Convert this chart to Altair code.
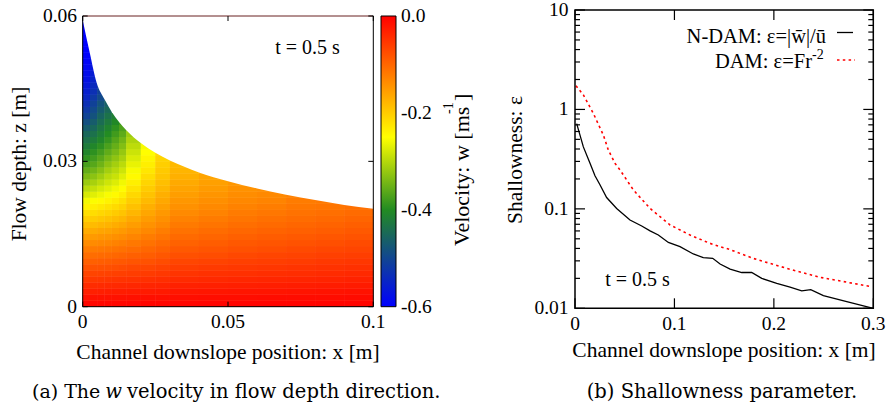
import altair as alt
import pandas as pd

FONT = "Liberation Serif"
CAP_FONT = "DejaVu Serif"

# ---------------- Left panel: w velocity field (readings at cell centres) ----------------
heat_x_edges = [0, 0.0025, 0.005, 0.0075, 0.01, 0.0125, 0.015, 0.02, 0.025, 0.03,
                0.04, 0.05, 0.06, 0.07, 0.08, 0.09, 0.1]
heat_z_edges = [0.0, 0.00125, 0.0025, 0.00375, 0.005, 0.00625, 0.0075, 0.00875, 0.01, 0.01125,
                0.0125, 0.01375, 0.015, 0.01625, 0.0175, 0.01875, 0.02, 0.02125, 0.0225, 0.02375,
                0.025, 0.02625, 0.0275, 0.02875, 0.03, 0.03125, 0.0325, 0.03375, 0.035, 0.03625,
                0.0375, 0.03875, 0.04, 0.04125, 0.0425, 0.04375, 0.045, 0.04625, 0.0475, 0.04875,
                0.05, 0.05125, 0.0525, 0.05375, 0.055, 0.05625, 0.0575, 0.05875, 0.06]
# one list per x column, values from the bed (z=0) upwards, up to the free surface
heat_w_columns = [
    [-0.006, -0.018, -0.031, -0.043, -0.056, -0.068, -0.081, -0.095, -0.108, -0.122, -0.137, -0.153,
     -0.169, -0.185, -0.202, -0.219, -0.238, -0.258, -0.278, -0.298, -0.318, -0.338, -0.356, -0.374,
     -0.391, -0.408, -0.423, -0.437, -0.452, -0.468, -0.486, -0.504, -0.518, -0.532, -0.544, -0.556,
     -0.566, -0.575, -0.582, -0.589, -0.594, -0.597, -0.6, -0.6, -0.6, -0.6, -0.6, -0.6],
    [-0.006, -0.018, -0.031, -0.043, -0.055, -0.067, -0.08, -0.094, -0.107, -0.121, -0.136, -0.151,
     -0.167, -0.183, -0.2, -0.217, -0.234, -0.252, -0.271, -0.29, -0.309, -0.328, -0.346, -0.364,
     -0.378, -0.392, -0.407, -0.423, -0.438, -0.452, -0.467, -0.482, -0.494, -0.506, -0.518, -0.531,
     -0.54, -0.55, -0.56, -0.57, -0.577, -0.583],
    [-0.006, -0.018, -0.03, -0.042, -0.054, -0.066, -0.079, -0.092, -0.105, -0.119, -0.133, -0.147,
     -0.162, -0.178, -0.195, -0.211, -0.228, -0.245, -0.262, -0.279, -0.296, -0.314, -0.331, -0.348,
     -0.362, -0.377, -0.392, -0.407, -0.419, -0.431, -0.444, -0.456, -0.469, -0.481, -0.494, -0.506,
     -0.515, -0.525],
    [-0.006, -0.018, -0.029, -0.041, -0.053, -0.065, -0.078, -0.091, -0.104, -0.117, -0.131, -0.145,
     -0.16, -0.175, -0.19, -0.206, -0.222, -0.238, -0.254, -0.27, -0.283, -0.297, -0.312, -0.327,
     -0.342, -0.357, -0.372, -0.387, -0.399, -0.411, -0.424, -0.436, -0.449, -0.461, -0.47, -0.48],
    [-0.006, -0.017, -0.028, -0.04, -0.051, -0.063, -0.076, -0.088, -0.101, -0.114, -0.127, -0.141,
     -0.155, -0.17, -0.184, -0.199, -0.215, -0.23, -0.245, -0.259, -0.273, -0.287, -0.299, -0.312,
     -0.326, -0.341, -0.354, -0.366, -0.379, -0.391, -0.404, -0.416],
    [-0.006, -0.017, -0.028, -0.039, -0.05, -0.062, -0.074, -0.086, -0.098, -0.111, -0.124, -0.137,
     -0.15, -0.164, -0.178, -0.192, -0.206, -0.22, -0.234, -0.247, -0.259, -0.271, -0.284, -0.296,
     -0.309, -0.321, -0.334, -0.346, -0.359, -0.371, -0.38],
    [-0.005, -0.016, -0.027, -0.038, -0.049, -0.06, -0.071, -0.083, -0.094, -0.106, -0.118, -0.13,
     -0.142, -0.154, -0.166, -0.178, -0.189, -0.201, -0.212, -0.224, -0.235, -0.245, -0.255, -0.265,
     -0.275, -0.285, -0.295, -0.305, -0.316, -0.327],
    [-0.005, -0.015, -0.026, -0.036, -0.047, -0.058, -0.069, -0.08, -0.091, -0.101, -0.112, -0.122,
     -0.133, -0.143, -0.153, -0.163, -0.172, -0.182, -0.191, -0.2, -0.209, -0.217, -0.226, -0.234,
     -0.241, -0.249, -0.255],
    [-0.005, -0.015, -0.025, -0.035, -0.045, -0.055, -0.065, -0.075, -0.085, -0.095, -0.104, -0.114,
     -0.123, -0.133, -0.141, -0.149, -0.157, -0.165, -0.172, -0.18, -0.187, -0.193, -0.198, -0.203,
     -0.208, -0.212],
    [-0.005, -0.014, -0.023, -0.032, -0.042, -0.051, -0.06, -0.069, -0.078, -0.087, -0.096, -0.104,
     -0.112, -0.12, -0.127, -0.135, -0.142, -0.148, -0.155, -0.161, -0.167, -0.173, -0.177, -0.181,
     -0.185],
    [-0.004, -0.013, -0.022, -0.031, -0.04, -0.048, -0.057, -0.066, -0.075, -0.083, -0.091, -0.099,
     -0.106, -0.114, -0.121, -0.128, -0.134, -0.14, -0.146, -0.152, -0.157, -0.161, -0.165],
    [-0.004, -0.013, -0.021, -0.03, -0.038, -0.047, -0.055, -0.063, -0.071, -0.079, -0.086, -0.094,
     -0.101, -0.108, -0.115, -0.121, -0.127, -0.133, -0.138, -0.143, -0.148],
    [-0.004, -0.012, -0.021, -0.029, -0.037, -0.045, -0.053, -0.061, -0.068, -0.076, -0.083, -0.09,
     -0.097, -0.104, -0.11, -0.117, -0.123, -0.129, -0.134, -0.139],
    [-0.004, -0.012, -0.02, -0.028, -0.036, -0.044, -0.051, -0.059, -0.066, -0.073, -0.08, -0.087,
     -0.094, -0.1, -0.106, -0.112, -0.117, -0.122, -0.127],
    [-0.004, -0.012, -0.019, -0.027, -0.035, -0.042, -0.049, -0.056, -0.063, -0.07, -0.077, -0.084,
     -0.091, -0.097, -0.103, -0.109, -0.115, -0.12],
    [-0.004, -0.011, -0.018, -0.026, -0.033, -0.04, -0.047, -0.054, -0.061, -0.068, -0.074, -0.081,
     -0.087, -0.093, -0.099, -0.105, -0.11],
]
# free surface of the flow
surface_x = [0, 0.0025, 0.0048, 0.0075, 0.01, 0.0125, 0.015, 0.0175, 0.02, 0.025, 0.03,
             0.035, 0.04, 0.05, 0.06, 0.07, 0.08, 0.09, 0.1]
surface_z = [0.0592, 0.0522, 0.0462, 0.0428, 0.0402, 0.0381, 0.0364, 0.0350, 0.0338, 0.0318,
             0.0302, 0.0289, 0.0277, 0.0259, 0.0244, 0.0231, 0.0220, 0.0210, 0.0202]

left_x_ticks = [0, 0.05, 0.1]
left_x_labels = ["0", "0.05", "0.1"]
left_y_ticks = [0, 0.03, 0.06]
left_y_labels = ["0", "0.03", "0.06"]
cbar_ticks = [0.0, -0.2, -0.4, -0.6]
cbar_labels = ["0.0", "-0.2", "-0.4", "-0.6"]
cbar_inner_ticks = [-0.2, -0.4]
palette_stops = [-0.6, -0.4, -0.25, 0.0]
palette_colors = ["#0000ff", "#228b22", "#ffff00", "#ff0000"]

# ---------------- Right panel: shallowness parameter ----------------
ndam_x = [0.0017, 0.0084, 0.0151, 0.0201, 0.0251, 0.0318, 0.0419, 0.0553, 0.0671, 0.0755, 0.0838,
          0.0939, 0.1056, 0.119, 0.129, 0.1385, 0.1459, 0.156, 0.1677, 0.1777, 0.1878, 0.2029,
          0.2163, 0.228, 0.2371, 0.2498, 0.2733, 0.3]
ndam_eps = [0.72, 0.42, 0.287, 0.215, 0.175, 0.130, 0.101, 0.0773, 0.0673, 0.060, 0.0546,
            0.046, 0.0417, 0.0352, 0.0323, 0.0318, 0.0279, 0.0248, 0.0229, 0.0229, 0.0200, 0.0178,
            0.0163, 0.0150, 0.0154, 0.0134, 0.0117, 0.0100]
dam_x = [0.001, 0.0084, 0.0184, 0.0285, 0.0335, 0.0402, 0.0453, 0.0587, 0.0755, 0.0956, 0.1157,
         0.1358, 0.1459, 0.1552, 0.179, 0.213, 0.2465, 0.28, 0.2985]
dam_eps = [1.73, 1.40, 0.914, 0.553, 0.391, 0.287, 0.246, 0.155, 0.101, 0.0689, 0.0546,
           0.045, 0.0417, 0.0392, 0.0318, 0.0252, 0.0205, 0.0178, 0.0165]

right_x_ticks = [0, 0.1, 0.2, 0.3]
right_x_labels = ["0", "0.1", "0.2", "0.3"]
right_y_ticks = [0.01, 0.1, 1, 10]
right_y_labels = ["0.01", "0.1", "1", "10"]
right_y_minor = [0.02, 0.03, 0.04, 0.05, 0.06, 0.07, 0.08, 0.09,
                 0.2, 0.3, 0.4, 0.5, 0.6, 0.7, 0.8, 0.9,
                 2, 3, 4, 5, 6, 7, 8, 9]

# ---------------- layout (pixel frame of each panel) ----------------
LX0, LX1, LYB, LYT = 82.7, 373.3, 306.7, 16.0
RX0, RX1, RYB, RYT = 575.0, 873.3, 308.3, 10.0
CBX0, CBX1 = 381.0, 396.0

XL = alt.Scale(domain=[0, 0.1], range=[LX0, LX1], nice=False, zero=False)
YL = alt.Scale(domain=[0, 0.06], range=[LYB, LYT], nice=False, zero=False)
YC = alt.Scale(domain=[-0.6, 0.0], range=[LYB, LYT], nice=False, zero=False)
XR = alt.Scale(domain=[0, 0.3], range=[RX0, RX1], nice=False, zero=False)
YR = alt.Scale(type="log", domain=[0.01, 10], range=[RYB, RYT], nice=False)
CS = alt.Scale(domain=palette_stops, range=palette_colors, interpolate="rgb")

rows = []
for i, col in enumerate(heat_w_columns):
    for j, w in enumerate(col):
        rows.append({"x0": heat_x_edges[i], "x1": heat_x_edges[i + 1],
                     "z0": heat_z_edges[j], "z1": heat_z_edges[j + 1], "w": w})
heat_df = pd.DataFrame(rows)
surf_df = pd.DataFrame({"x": surface_x, "z": surface_z})


def txt(s, x, y, size, angle=0, align="center", font=FONT, style="normal"):
    kw = dict(font=font, fontSize=size, align=align, baseline="middle", color="black",
              fontStyle=style)
    if angle:
        kw["angle"] = angle
    return alt.Chart(pd.DataFrame({"s": [s]})).mark_text(**kw).encode(
        x=alt.value(x), y=alt.value(y), text="s:N")


def xticks(values, scale, ybot, ytop, length, width=1):
    d = pd.DataFrame({"v": values})
    ex = alt.X("v:Q", scale=scale, axis=None)
    return [
        alt.Chart(d).mark_rule(color="black", strokeWidth=width).encode(
            x=ex, y=alt.value(ybot), y2=alt.value(ybot - length)),
        alt.Chart(d).mark_rule(color="black", strokeWidth=width).encode(
            x=ex, y=alt.value(ytop), y2=alt.value(ytop + length)),
    ]


def yticks(values, scale, xl, xr, length, width=1):
    d = pd.DataFrame({"v": values})
    ey = alt.Y("v:Q", scale=scale, axis=None)
    return [
        alt.Chart(d).mark_rule(color="black", strokeWidth=width).encode(
            y=ey, x=alt.value(xl), x2=alt.value(xl + length)),
        alt.Chart(d).mark_rule(color="black", strokeWidth=width).encode(
            y=ey, x=alt.value(xr), x2=alt.value(xr - length)),
    ]


def xlabels(values, labels, scale, ypix, size):
    d = pd.DataFrame({"v": values, "lab": labels})
    return alt.Chart(d).mark_text(font=FONT, fontSize=size, align="center", baseline="middle",
                                  color="black").encode(
        x=alt.X("v:Q", scale=scale, axis=None), y=alt.value(ypix), text="lab:N")


def ylabels(values, labels, scale, xpix, size, align="right"):
    d = pd.DataFrame({"v": values, "lab": labels})
    return alt.Chart(d).mark_text(font=FONT, fontSize=size, align=align, baseline="middle",
                                  color="black").encode(
        y=alt.Y("v:Q", scale=scale, axis=None), x=alt.value(xpix), text="lab:N")


def frame(xd, yd, xs, ys, width):
    d = pd.DataFrame({"x0": [xd[0]], "x1": [xd[1]], "y0": [yd[0]], "y1": [yd[1]]})
    return alt.Chart(d).mark_rect(fillOpacity=0, stroke="black", strokeWidth=width).encode(
        x=alt.X("x0:Q", scale=xs, axis=None), x2="x1:Q",
        y=alt.Y("y0:Q", scale=ys, axis=None), y2="y1:Q")


def heat_layer(legend):
    return alt.Chart(heat_df).mark_rect().encode(
        x=alt.X("x0:Q", scale=XL, axis=None), x2="x1:Q",
        y=alt.Y("z0:Q", scale=YL, axis=None), y2="z1:Q",
        color=alt.Color("w:Q", scale=CS, legend=legend),
    )


layers = []

# --- left panel ---
layers.append(heat_layer(alt.Legend(
    type="gradient", orient="none", legendX=CBX0, legendY=LYT, direction="vertical",
    gradientLength=LYB - LYT, gradientThickness=CBX1 - CBX0, labelExpr="''",
    labelOpacity=0, title=None, padding=0, gradientStrokeColor="black",
    gradientStrokeWidth=1)))
layers.append(heat_layer(None))  # second pass hides anti-aliasing seams between cells
cap = alt.Chart(surf_df).mark_area(color="white", interpolate="monotone").encode(
    x=alt.X("x:Q", scale=XL, axis=None),
    y=alt.Y("z:Q", scale=YL, axis=None),
    y2=alt.datum(0.06))
layers.append(cap)
layers.append(frame([0, 0.1], [0, 0.06], XL, YL, 1))
layers.append(alt.Chart(pd.DataFrame({"v": [0.06]})).mark_rule(color="#e8a0a0", strokeWidth=1).encode(
    y=alt.Y("v:Q", scale=YL, axis=None), x=alt.value(LX0 + 1), x2=alt.value(LX1 - 1)))
layers += xticks(left_x_ticks, XL, LYB, LYT, 5)
layers += yticks(left_y_ticks, YL, LX0, LX1, 5)
layers.append(xlabels(left_x_ticks, left_x_labels, XL, 322, 19.5))
layers.append(ylabels(left_y_ticks, left_y_labels, YL, 77, 19.5))
# colorbar labels and ticks
layers.append(ylabels(cbar_ticks, cbar_labels, YC, 401, 19.5, align="left"))
layers += yticks(cbar_inner_ticks, YC, CBX0, CBX1, 4)
layers.append(txt("t = 0.5 s", 307.5, 48, 20))
layers.append(txt("Flow depth: z [m]", 20, 164, 21.5, angle=270))
layers.append(txt("Channel downslope position: x [m]", 228, 353, 21.5))
layers.append(txt("Velocity: w [ms", 461.5, 246, 22, angle=270, align="left"))
layers.append(txt("-1", 449, 114, 14, angle=270, align="left"))
layers.append(txt("]", 461.5, 101, 22, angle=270, align="left"))
layers.append(txt("(a) The", 32, 392, 19, align="left", font=CAP_FONT))
layers.append(txt("w", 113.5, 392, 19.5, font=CAP_FONT, style="italic"))
layers.append(txt("velocity in flow depth direction.", 127, 392, 19.5, align="left", font=CAP_FONT))

# --- right panel ---
ndam_df = pd.DataFrame({"x": ndam_x, "eps": ndam_eps})
dam_df = pd.DataFrame({"x": dam_x, "eps": dam_eps})
layers.append(alt.Chart(dam_df).mark_line(color="#ff0000", strokeWidth=1.6, strokeDash=[2.5, 3.3]).encode(
    x=alt.X("x:Q", scale=XR, axis=None), y=alt.Y("eps:Q", scale=YR, axis=None)))
layers.append(alt.Chart(ndam_df).mark_line(color="black", strokeWidth=1.3).encode(
    x=alt.X("x:Q", scale=XR, axis=None), y=alt.Y("eps:Q", scale=YR, axis=None)))
layers.append(frame([0, 0.3], [0.01, 10], XR, YR, 1.5))
layers += xticks(right_x_ticks, XR, RYB, RYT, 10, 1.2)
layers += yticks(right_y_ticks, YR, RX0, RX1, 10, 1.2)
layers += yticks(right_y_minor, YR, RX0, RX1, 5, 1.2)
layers.append(xlabels(right_x_ticks, right_x_labels, XR, 323.5, 19.5))
layers.append(ylabels(right_y_ticks, right_y_labels, YR, 568.5, 19.5))
layers.append(txt("N-DAM: \u03b5=|w\u0304|/u\u0304", 826, 37, 20.5, align="right"))
layers.append(txt("DAM: \u03b5=Fr", 812, 62, 20.5, align="right"))
layers.append(txt("-2", 812, 54.5, 14, align="left"))
layers.append(alt.Chart(pd.DataFrame({"k": [0]})).mark_rule(color="black", strokeWidth=1.3).encode(
    x=alt.value(837), x2=alt.value(853), y=alt.value(32.5)))
layers.append(alt.Chart(pd.DataFrame({"k": [0]})).mark_rule(color="#ff0000", strokeWidth=1.6,
                                                           strokeDash=[2.5, 3.3]).encode(
    x=alt.value(837), x2=alt.value(855), y=alt.value(60)))
layers.append(txt("t = 0.5 s", 637.5, 279.5, 20))
layers.append(txt("Shallowness: \u03b5", 515.5, 160, 21.5, angle=270))
layers.append(txt("Channel downslope position: x [m]", 724, 351, 21.5))
layers.append(txt("(b) Shallowness parameter.", 722, 392, 19.5, font=CAP_FONT))

chart = alt.layer(*layers).resolve_scale(
    x="independent", y="independent", color="independent"
).properties(
    width=888, height=407, padding=0, autosize="none", background="white"
).configure_view(strokeWidth=0)

chart.save("out.html", embed_options={"renderer": "svg", "actions": False})
